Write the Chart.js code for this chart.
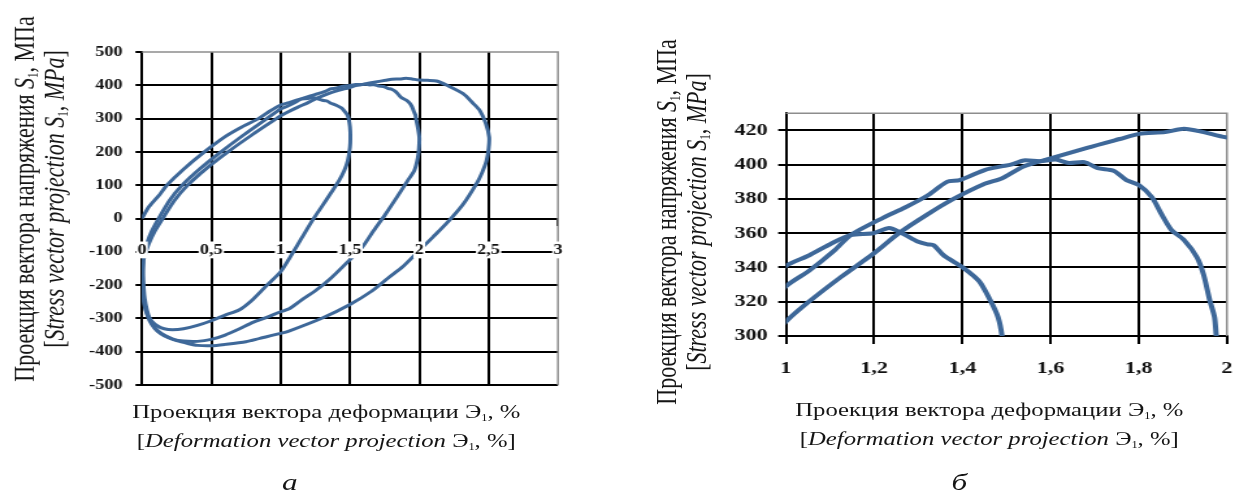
<!DOCTYPE html>
<html>
<head>
<meta charset="utf-8">
<script src="https://cdn.jsdelivr.net/npm/chart.js@4.4.1/dist/chart.umd.min.js"></script>
<style>
html, body { margin: 0; padding: 0; background: #fff; overflow: hidden; }
#page { position: absolute; left: 0; top: 0; height: 499px; transform-origin: 0 0;
        font-family: "Liberation Serif", serif; color: #151515; }
.box { position: absolute; top: 0; width: 477px; height: 499px; }
.ytitle { position: absolute; width: 460px; text-align: center; font-size: 22px; line-height: 23px;
          white-space: nowrap; transform: translate(-50%, -50%) rotate(-90deg); }
.xtitle { position: absolute; width: 440px; text-align: center; font-size: 19px; line-height: 29px;
          white-space: nowrap; transform: translateX(-50%); }
.cap { position: absolute; font-style: italic; font-size: 24px; transform: translate(-50%, -50%); }
sub { font-size: 0.5em; vertical-align: -0.3em; line-height: 0; }
</style>
</head>
<body>
<div id="page">
  <div class="box" style="left:0"><canvas id="chartA"></canvas></div>
  <div class="box" style="left:485px"><canvas id="chartB"></canvas></div>

  <div class="ytitle" style="left:30px; top:199px">Проекция вектора напряжения <i>S</i><sub>1</sub>, МПа<br>[<i>Stress vector projection S</i><sub>1</sub>, <i>MPa</i>]</div>
  <div class="ytitle" style="left:524px; top:222px">Проекция вектора напряжения <i>S</i><sub>1</sub>, МПа<br>[<i>Stress vector projection S</i><sub>1</sub>, <i>MPa</i>]</div>

  <div class="xtitle" style="left:251px; top:397px">Проекция вектора деформации Э<sub>1</sub>, %<br>[<i>Deformation vector projection</i> Э<sub>1</sub>, %]</div>
  <div class="xtitle" style="left:761px; top:395px">Проекция вектора деформации Э<sub>1</sub>, %<br>[<i>Deformation vector projection</i> Э<sub>1</sub>, %]</div>

  <div class="cap" style="left:223px; top:482px">а</div>
  <div class="cap" style="left:738px; top:482px">б</div>
</div>

<script>
// the printed figure is stretched sideways, so the whole page is too
const S = 1.3;

const leftXTicks = [0, 0.5, 1, 1.5, 2, 2.5, 3];
const leftYTicks = [-500, -400, -300, -200, -100, 0, 100, 200, 300, 400, 500];
const rightXTicks = [1, 1.2, 1.4, 1.6, 1.8, 2];
const rightYTicks = [300, 320, 340, 360, 380, 400, 420];

// initial loading and the first (1.5 %) cycle
const loop1Strain = [0, 0.05, 0.13, 0.18, 0.3, 0.45, 0.6, 0.72, 0.84, 0.92, 1.0, 1.052, 1.103, 1.147, 1.198,
  1.234, 1.263, 1.3, 1.321, 1.335, 1.358, 1.401, 1.438, 1.463, 1.481, 1.49, 1.5, 1.503, 1.5, 1.485, 1.46, 1.42,
  1.36, 1.3, 1.227, 1.15, 1.06, 1.0, 0.9, 0.8, 0.7, 0.6, 0.5, 0.4, 0.3, 0.22, 0.16, 0.11, 0.07, 0.04, 0.02,
  0.008, 0.004, 0.005, 0.01];
const loop1Stress = [0, 35, 73, 100, 148, 200, 246, 275, 300, 322, 341, 347, 354, 359, 360,
  363, 360, 355, 353.5, 353, 347, 340, 332, 321, 311, 300, 275, 245, 214, 175, 145, 113,
  75, 38, -7, -60, -122, -160, -201, -243, -275, -290, -307, -321, -331, -334, -331, -322, -308, -290, -265,
  -235, -200, -160, -120];

// second (2 %) cycle
const loop2Strain = [0.01, 0.02, 0.04, 0.07, 0.12, 0.2, 0.29, 0.42, 0.57, 0.73, 0.9, 1.0, 1.052, 1.11,
  1.147, 1.22, 1.27, 1.321, 1.365, 1.394, 1.452, 1.489, 1.51, 1.539, 1.576, 1.612, 1.641, 1.677, 1.707, 1.743,
  1.772, 1.801, 1.83, 1.852, 1.874, 1.903, 1.932, 1.947, 1.961, 1.972, 1.976, 1.99, 2.0, 1.998, 1.99, 1.965,
  1.915, 1.84, 1.756, 1.67, 1.587, 1.467, 1.36, 1.25, 1.15, 1.058, 1.0, 0.9, 0.8, 0.7, 0.6, 0.5, 0.4, 0.3,
  0.22, 0.16, 0.11, 0.07, 0.04, 0.02, 0.008, 0.004, 0.005, 0.01];
const loop2Stress = [-120, -100, -70, -38, 0, 55, 100, 150, 200, 250, 300, 329, 338, 350,
  359, 369, 375, 382, 390, 391, 397, 399, 400, 402.5, 402, 403, 401, 401.5, 398, 396.5,
  391, 388, 381, 371, 362, 356, 346, 336, 321, 311, 300, 272, 244, 214, 184, 145,
  113, 65, 13, -37, -87, -137, -180, -217, -245, -272, -280, -297, -312, -332, -350, -363, -369, -368,
  -362, -352, -338, -318, -292, -260, -225, -185, -150, -125];

// third (2.5 %) cycle
const loop3Strain = [0.01, 0.025, 0.05, 0.09, 0.15, 0.23, 0.33, 0.47, 0.62, 0.79, 0.97, 1.0, 1.052, 1.125,
  1.198, 1.256, 1.321, 1.38, 1.452, 1.489, 1.539, 1.598, 1.685, 1.757, 1.801, 1.86, 1.903, 1.947, 1.997, 2.06,
  2.124, 2.2, 2.316, 2.39, 2.437, 2.48, 2.504, 2.5, 2.485, 2.455, 2.42, 2.32, 2.213, 2.1, 1.985, 1.88, 1.78,
  1.65, 1.5, 1.305, 1.06, 1.0, 0.85, 0.75, 0.6, 0.5, 0.4, 0.337, 0.25, 0.193, 0.14, 0.097, 0.06, 0.036, 0.02,
  0.012, 0.007, 0.005];
const loop3Stress = [-125, -105, -75, -40, 0, 52, 100, 152, 200, 250, 300, 308.5, 320, 334.5,
  348, 360, 371, 380, 389, 392, 399, 403.5, 410, 415, 418, 419, 421, 419, 416, 415,
  413, 400, 375, 345, 324, 285, 244, 210, 174, 140, 110, 45, -7, -55, -102, -145, -177,
  -220, -258, -298, -338, -345, -360, -370, -378, -382, -381, -376, -367, -357, -345, -330, -305, -275, -240,
  -205, -165, -130];

const lineBlue = '#3e6899';
const serif = 'Liberation Serif';

const page = document.getElementById('page');
page.style.width = (1251 / S) + 'px';
page.style.transform = 'scaleX(' + S + ')';

function toPoints(xs, ys) {
  return xs.map((x, i) => ({ x: x, y: ys[i] }));
}

function makeDatasets(width) {
  return [[loop1Strain, loop1Stress], [loop2Strain, loop2Stress], [loop3Strain, loop3Stress]].map(p => ({
    data: toPoints(p[0], p[1]),
    showLine: true,
    borderColor: lineBlue,
    borderWidth: width,
    pointRadius: 0,
    tension: 0.25,
    fill: false
  }));
}

function fixedTicks(values) {
  return function (scale) {
    scale.ticks = values.map(v => ({ value: v }));
  };
}

const comma = v => String(v).replace('.', ',');

// grey top and right edges of the plot area, like Excel draws them
const frame = {
  id: 'frame',
  beforeDatasetsDraw(chart) {
    const a = chart.chartArea;
    const ctx = chart.ctx;
    ctx.save();
    ctx.strokeStyle = '#8d8d8d';
    ctx.lineWidth = 1.5;
    ctx.beginPath();
    ctx.moveTo(a.left, a.top);
    ctx.lineTo(a.right, a.top);
    ctx.lineTo(a.right, a.bottom);
    ctx.stroke();
    ctx.restore();
  }
};

const noLegend = { legend: { display: false }, tooltip: { enabled: false } };

new Chart(document.getElementById('chartA'), {
  type: 'scatter',
  data: { datasets: makeDatasets(3) },
  options: {
    responsive: true,
    maintainAspectRatio: false,
    animation: false,
    layout: { padding: { left: 59.2, right: 47.8, top: 52, bottom: 114 } },
    plugins: noLegend,
    scales: {
      x: {
        type: 'linear',
        position: { y: 0 },
        min: 0,
        max: 3,
        afterBuildTicks: fixedTicks(leftXTicks),
        grid: {
          color: c => (c.tick && c.tick.value === 3 ? 'rgba(0,0,0,0)' : '#000'),
          lineWidth: 2, tickLength: 6, tickColor: '#000', tickWidth: 2
        },
        border: { color: '#000', width: 2 },
        ticks: {
          callback: comma, padding: 17, color: '#111', z: 1,
          font: { family: serif, size: 14, weight: 'bold' },
          showLabelBackdrop: true, backdropColor: '#fff',
          backdropPadding: { top: 0, bottom: 0, left: 1, right: 1 },
          maxRotation: 0, autoSkip: false
        }
      },
      y: {
        type: 'linear',
        min: -500,
        max: 500,
        afterBuildTicks: fixedTicks(leftYTicks),
        afterFit: s => { s.width = 50; },
        grid: {
          color: c => (c.tick && c.tick.value === 500 ? 'rgba(0,0,0,0)' : '#000'),
          lineWidth: 2, tickLength: 5, tickColor: '#000', tickWidth: 2
        },
        border: { color: '#000', width: 2 },
        ticks: {
          callback: comma, padding: 10, color: '#111',
          font: { family: serif, size: 14, weight: 'bold' }
        }
      }
    }
  },
  plugins: [frame]
});

new Chart(document.getElementById('chartB'), {
  type: 'scatter',
  data: { datasets: makeDatasets(4) },
  options: {
    responsive: true,
    maintainAspectRatio: false,
    animation: false,
    layout: { padding: { left: 64.6, right: 5.1, top: 113.3, bottom: 123 } },
    plugins: noLegend,
    scales: {
      x: {
        type: 'linear',
        position: 'bottom',
        min: 1,
        max: 2,
        afterBuildTicks: fixedTicks(rightXTicks),
        afterFit: s => { s.height = 40; },
        grid: {
          color: c => (c.tick && c.tick.value === 2 ? 'rgba(0,0,0,0)' : '#000'),
          lineWidth: 2, tickLength: 8, tickColor: '#000', tickWidth: 2
        },
        border: { color: '#000', width: 2 },
        ticks: {
          callback: comma, padding: 14, color: '#111',
          font: { family: serif, size: 17, weight: 'bold' },
          maxRotation: 0, autoSkip: false
        }
      },
      y: {
        type: 'linear',
        min: 300,
        max: 430,
        afterBuildTicks: fixedTicks(rightYTicks),
        afterFit: s => { s.width = 55; },
        grid: { color: '#000', lineWidth: 2, tickLength: 6, tickColor: '#000', tickWidth: 2 },
        border: { color: '#000', width: 2 },
        ticks: {
          callback: comma, padding: 8, color: '#111',
          font: { family: serif, size: 17, weight: 'bold' }
        }
      }
    }
  },
  plugins: [frame]
});
</script>
</body>
</html>
